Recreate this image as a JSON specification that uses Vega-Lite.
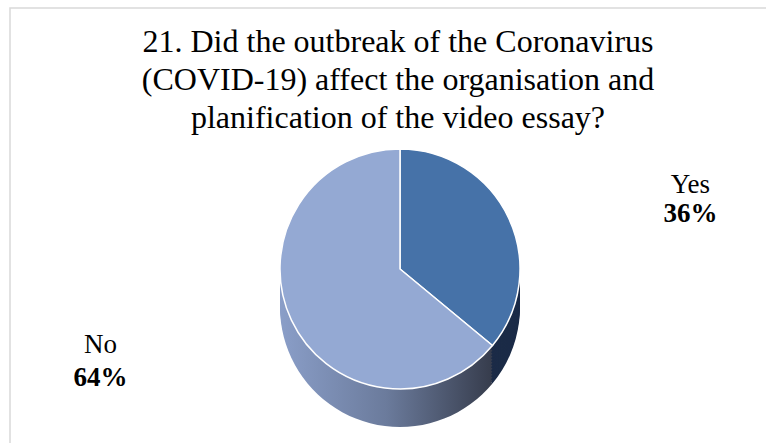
{
  "$schema": "https://vega.github.io/schema/vega-lite/v6.json",
  "autosize": "none",
  "width": 770,
  "height": 450,
  "padding": {"left": 10, "top": 8, "right": 0, "bottom": 0},
  "background": "white",
  "view": {"stroke": "#D9D9D9", "strokeWidth": 1.5},
  "title": {
    "text": ["21. Did the outbreak of the Coronavirus", "(COVID-19) affect the organisation and", "planification of the video essay?"],
    "font": "Liberation Serif",
    "fontSize": 32,
    "fontWeight": "normal",
    "color": "#000000",
    "lineHeight": 38,
    "anchor": "middle",
    "baseline": "top",
    "offset": 0,
    "dx": 3,
    "dy": 127
  },
  "data": {"values": [
    {"answer": "Yes", "percent": 0.36},
    {"answer": "No", "percent": 0.64}
  ]},
  "encoding": {
    "theta": {"field": "percent", "type": "quantitative", "stack": true},
    "order": {"field": "percent", "sort": "ascending"}
  },
  "layer": [
    {"mark": {"type": "arc", "radius": 120, "xOffset": 5, "yOffset": 74}, "encoding": {"color": {"condition": {"test": "datum.answer === 'No'", "value": {"gradient": "linear", "x1": 0, "y1": 0, "x2": 1, "y2": 0, "stops": [{"offset": 0, "color": "#8A9EC8"}, {"offset": 0.5, "color": "#6B7B9C"}, {"offset": 1, "color": "#363C4C"}]}}, "value": "#1B2B47"}}},
    {"mark": {"type": "arc", "radius": 120, "xOffset": 5, "yOffset": 71}, "encoding": {"color": {"condition": {"test": "datum.answer === 'No'", "value": {"gradient": "linear", "x1": 0, "y1": 0, "x2": 1, "y2": 0, "stops": [{"offset": 0, "color": "#8A9EC8"}, {"offset": 0.5, "color": "#6B7B9C"}, {"offset": 1, "color": "#363C4C"}]}}, "value": "#1B2B47"}}},
    {"mark": {"type": "arc", "radius": 120, "xOffset": 5, "yOffset": 68}, "encoding": {"color": {"condition": {"test": "datum.answer === 'No'", "value": {"gradient": "linear", "x1": 0, "y1": 0, "x2": 1, "y2": 0, "stops": [{"offset": 0, "color": "#8A9EC8"}, {"offset": 0.5, "color": "#6B7B9C"}, {"offset": 1, "color": "#363C4C"}]}}, "value": "#1B2B47"}}},
    {"mark": {"type": "arc", "radius": 120, "xOffset": 5, "yOffset": 65}, "encoding": {"color": {"condition": {"test": "datum.answer === 'No'", "value": {"gradient": "linear", "x1": 0, "y1": 0, "x2": 1, "y2": 0, "stops": [{"offset": 0, "color": "#8A9EC8"}, {"offset": 0.5, "color": "#6B7B9C"}, {"offset": 1, "color": "#363C4C"}]}}, "value": "#1B2B47"}}},
    {"mark": {"type": "arc", "radius": 120, "xOffset": 5, "yOffset": 62}, "encoding": {"color": {"condition": {"test": "datum.answer === 'No'", "value": {"gradient": "linear", "x1": 0, "y1": 0, "x2": 1, "y2": 0, "stops": [{"offset": 0, "color": "#8A9EC8"}, {"offset": 0.5, "color": "#6B7B9C"}, {"offset": 1, "color": "#363C4C"}]}}, "value": "#1B2B47"}}},
    {"mark": {"type": "arc", "radius": 120, "xOffset": 5, "yOffset": 59}, "encoding": {"color": {"condition": {"test": "datum.answer === 'No'", "value": {"gradient": "linear", "x1": 0, "y1": 0, "x2": 1, "y2": 0, "stops": [{"offset": 0, "color": "#8A9EC8"}, {"offset": 0.5, "color": "#6B7B9C"}, {"offset": 1, "color": "#363C4C"}]}}, "value": "#1B2B47"}}},
    {"mark": {"type": "arc", "radius": 120, "xOffset": 5, "yOffset": 56}, "encoding": {"color": {"condition": {"test": "datum.answer === 'No'", "value": {"gradient": "linear", "x1": 0, "y1": 0, "x2": 1, "y2": 0, "stops": [{"offset": 0, "color": "#8A9EC8"}, {"offset": 0.5, "color": "#6B7B9C"}, {"offset": 1, "color": "#363C4C"}]}}, "value": "#1B2B47"}}},
    {"mark": {"type": "arc", "radius": 120, "xOffset": 5, "yOffset": 53}, "encoding": {"color": {"condition": {"test": "datum.answer === 'No'", "value": {"gradient": "linear", "x1": 0, "y1": 0, "x2": 1, "y2": 0, "stops": [{"offset": 0, "color": "#8A9EC8"}, {"offset": 0.5, "color": "#6B7B9C"}, {"offset": 1, "color": "#363C4C"}]}}, "value": "#1B2B47"}}},
    {"mark": {"type": "arc", "radius": 120, "xOffset": 5, "yOffset": 50}, "encoding": {"color": {"condition": {"test": "datum.answer === 'No'", "value": {"gradient": "linear", "x1": 0, "y1": 0, "x2": 1, "y2": 0, "stops": [{"offset": 0, "color": "#8A9EC8"}, {"offset": 0.5, "color": "#6B7B9C"}, {"offset": 1, "color": "#363C4C"}]}}, "value": "#1B2B47"}}},
    {"mark": {"type": "arc", "radius": 120, "xOffset": 5, "yOffset": 47}, "encoding": {"color": {"condition": {"test": "datum.answer === 'No'", "value": {"gradient": "linear", "x1": 0, "y1": 0, "x2": 1, "y2": 0, "stops": [{"offset": 0, "color": "#8A9EC8"}, {"offset": 0.5, "color": "#6B7B9C"}, {"offset": 1, "color": "#363C4C"}]}}, "value": "#1B2B47"}}},
    {"mark": {"type": "arc", "radius": 120, "xOffset": 5, "yOffset": 44}, "encoding": {"color": {"condition": {"test": "datum.answer === 'No'", "value": {"gradient": "linear", "x1": 0, "y1": 0, "x2": 1, "y2": 0, "stops": [{"offset": 0, "color": "#8A9EC8"}, {"offset": 0.5, "color": "#6B7B9C"}, {"offset": 1, "color": "#363C4C"}]}}, "value": "#1B2B47"}}},
    {"mark": {"type": "arc", "radius": 120, "xOffset": 5, "yOffset": 41}, "encoding": {"color": {"condition": {"test": "datum.answer === 'No'", "value": {"gradient": "linear", "x1": 0, "y1": 0, "x2": 1, "y2": 0, "stops": [{"offset": 0, "color": "#8A9EC8"}, {"offset": 0.5, "color": "#6B7B9C"}, {"offset": 1, "color": "#363C4C"}]}}, "value": "#1B2B47"}}},
    {"mark": {"type": "arc", "radius": 120, "xOffset": 5, "yOffset": 38}, "encoding": {"color": {"condition": {"test": "datum.answer === 'No'", "value": {"gradient": "linear", "x1": 0, "y1": 0, "x2": 1, "y2": 0, "stops": [{"offset": 0, "color": "#8A9EC8"}, {"offset": 0.5, "color": "#6B7B9C"}, {"offset": 1, "color": "#363C4C"}]}}, "value": "#1B2B47"}}},
    {
      "mark": {"type": "arc", "radius": 120, "xOffset": 5, "yOffset": 36, "stroke": "white", "strokeWidth": 1.5},
      "encoding": {"color": {"field": "answer", "type": "nominal", "scale": {"domain": ["Yes", "No"], "range": ["#4672A8", "#94A9D3"]}, "legend": null}}
    },
    {
      "mark": {"type": "text", "radius": 300, "dx": 24, "dy": 80, "font": "Liberation Serif", "fontSize": 27, "color": "#000000", "align": "center", "baseline": "middle"},
      "encoding": {"text": {"field": "answer"}, "opacity": {"condition": {"test": "datum.answer === 'Yes'", "value": 1}, "value": 0}}
    },
    {
      "mark": {"type": "text", "radius": 300, "dx": 24, "dy": 109, "font": "Liberation Serif", "fontSize": 27, "fontWeight": "bold", "color": "#000000", "align": "center", "baseline": "middle"},
      "encoding": {"text": {"field": "percent", "format": ".0%"}, "opacity": {"condition": {"test": "datum.answer === 'Yes'", "value": 1}, "value": 0}}
    },
    {
      "mark": {"type": "text", "radius": 300, "dx": -23, "dy": -16, "font": "Liberation Serif", "fontSize": 27, "color": "#000000", "align": "center", "baseline": "middle"},
      "encoding": {"text": {"field": "answer"}, "opacity": {"condition": {"test": "datum.answer === 'No'", "value": 1}, "value": 0}}
    },
    {
      "mark": {"type": "text", "radius": 300, "dx": -23, "dy": 17, "font": "Liberation Serif", "fontSize": 27, "fontWeight": "bold", "color": "#000000", "align": "center", "baseline": "middle"},
      "encoding": {"text": {"field": "percent", "format": ".0%"}, "opacity": {"condition": {"test": "datum.answer === 'No'", "value": 1}, "value": 0}}
    }
  ]
}
